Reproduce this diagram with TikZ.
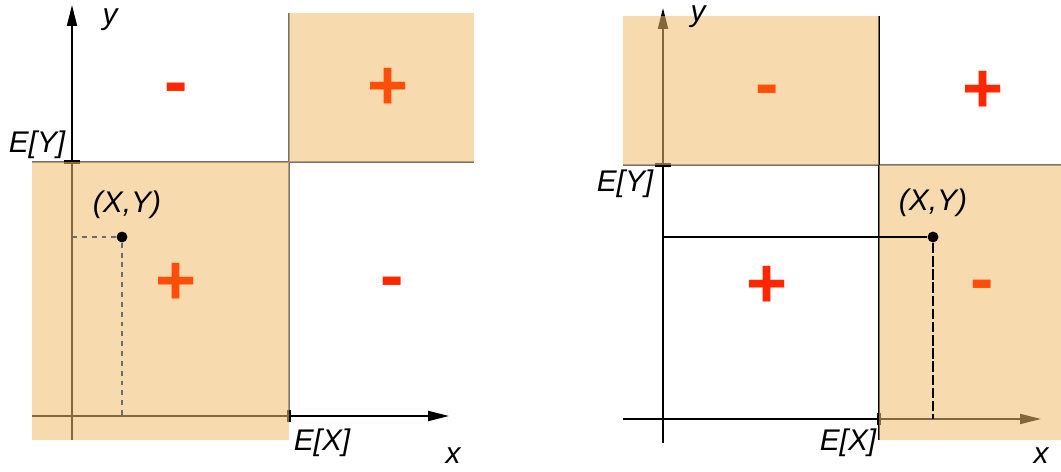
\documentclass[tikz,border=0pt]{standalone}
\usepackage{fontspec}
\newfontfamily\lblfont{Liberation Sans}
\usetikzlibrary{arrows.meta}

\definecolor{shade_color}{RGB}{240,190,110}
\definecolor{sign_color}{RGB}{255,38,0}
\definecolor{sign_in_color}{RGB}{255,78,10}

\begin{document}
\begin{tikzpicture}[x=0.02cm, y=-0.02cm]
    % Estilo para las regiones sombreadas
    \tikzstyle{region_style} = [fill=shade_color, fill opacity=0.55, draw=none]

    % Estilo para los ejes y las lineas
    \tikzstyle{axis_style} = [line width=1.1pt, -{Triangle[length=4.2mm, width=2mm]}]
    \tikzstyle{border_style} = [line width=0.6pt, draw=gray!90!black]
    \tikzstyle{tick_style} = [line width=1.8pt]
    \tikzstyle{dash_style} = [line width=0.6pt, dash pattern=on 2.8pt off 2.8pt]

    % Estilo para las etiquetas y los signos
    \tikzstyle{label_style} = [inner sep=0pt, font=\lblfont\itshape\fontsize{17}{20}\selectfont]
    \tikzstyle{sign_style} = [inner sep=0pt, text=sign_color, font=\lblfont\bfseries\fontsize{40}{40}\selectfont]
    \tikzstyle{sign_in_style} = [sign_style, text=sign_in_color]
    \tikzstyle{point_style} = [circle, fill=black, inner sep=0pt, minimum size=6.2pt]

    \useasboundingbox (0,0) rectangle (1061,472);

    % ---------------- Panel izquierdo ----------------
    \coordinate (yb1) at (72,440);
    \coordinate (yt1) at (72,5);
    \coordinate (xl1) at (32,416);
    \coordinate (xr1) at (449,416);
    \coordinate (ey1) at (72,162);
    \coordinate (ex1) at (289,416);
    \coordinate (hl1) at (32,162);
    \coordinate (hr1) at (474,162);
    \coordinate (vt1) at (289,13);
    \coordinate (vb1) at (289,416);

    \draw[axis_style] (yb1) -- (yt1);
    \draw[axis_style] (xl1) -- (xr1);
    \draw[border_style] (hl1) -- (hr1);
    \draw[border_style] (vt1) -- (vb1);
    \draw[tick_style] ([xshift=-8*0.02cm]ey1) -- ([xshift=8*0.02cm]ey1);
    \draw[tick_style] ([yshift=6*0.02cm]ex1) -- ([yshift=-6*0.02cm]ex1);

    \fill[region_style] (32,162) rectangle (289,440);
    \fill[region_style] (289,13) rectangle (474,162);

    \node[sign_style] (m11) at (176,94) {-};
    \node[sign_in_style] (p12) at (388,89) {+};
    \node[sign_in_style] (p13) at (176,284) {+};
    \node[sign_style] (m14) at (392,288) {-};

    \node[point_style] (P1) at (122,237) {};
    \coordinate (py1) at (72,237);
    \coordinate (px1) at (122,416);
    \draw[dash_style, draw=gray!85!black] (py1) -- (P1);
    \draw[dash_style, draw=gray!85!black] (P1) -- (px1);

    \node[label_style] (ly1) at (110,20) {y};
    \node[label_style] (lEY1) at (37,145) {E[Y]};
    \node[label_style] (lP1) at (127,205) {(X,Y)};
    \node[label_style] (lEX1) at (322,443) {E[X]};
    \node[label_style] (lx1) at (453,456) {x};

    % ---------------- Panel derecho ----------------
    \coordinate (yb2) at (663,443);
    \coordinate (yt2) at (663,8);
    \coordinate (xl2) at (623,419);
    \coordinate (xr2) at (1041,419);
    \coordinate (ey2) at (663,165);
    \coordinate (ex2) at (879,419);
    \coordinate (hl2) at (623,165);
    \coordinate (hr2) at (1061,165);
    \coordinate (vt2) at (879,16);
    \coordinate (vb2) at (879,440);

    \draw[axis_style] (yb2) -- (yt2);
    \draw[axis_style] (xl2) -- (xr2);
    \draw[border_style] (hl2) -- (hr2);
    \draw[line width=0.6pt] (vt2) -- (vb2);
    \draw[tick_style] ([xshift=-8*0.02cm]ey2) -- ([xshift=8*0.02cm]ey2);
    \draw[tick_style] ([yshift=6*0.02cm]ex2) -- ([yshift=-6*0.02cm]ex2);

    \fill[region_style] (623,16) rectangle (879,165);
    \fill[region_style] (879,165) rectangle (1061,440);

    \node[sign_in_style] (m21) at (767,96) {-};
    \node[sign_style] (p22) at (983,92) {+};
    \node[sign_style] (p23) at (767,287) {+};
    \node[sign_in_style] (m24) at (982,291) {-};

    \node[point_style] (P2) at (933,237) {};
    \coordinate (py2) at (663,237);
    \coordinate (px2) at (933,419);
    \draw[line width=0.6pt] (py2) -- (P2);
    \draw[line width=0.6pt, dash pattern=on 6pt off 1.5pt] (P2) -- (px2);

    \node[label_style] (ly2) at (698,17) {y};
    \node[label_style] (lEY2) at (625,184) {E[Y]};
    \node[label_style] (lP2) at (933,203) {(X,Y)};
    \node[label_style] (lEX2) at (848,443) {E[X]};
    \node[label_style] (lx2) at (1041,456) {x};

\end{tikzpicture}
\end{document}
